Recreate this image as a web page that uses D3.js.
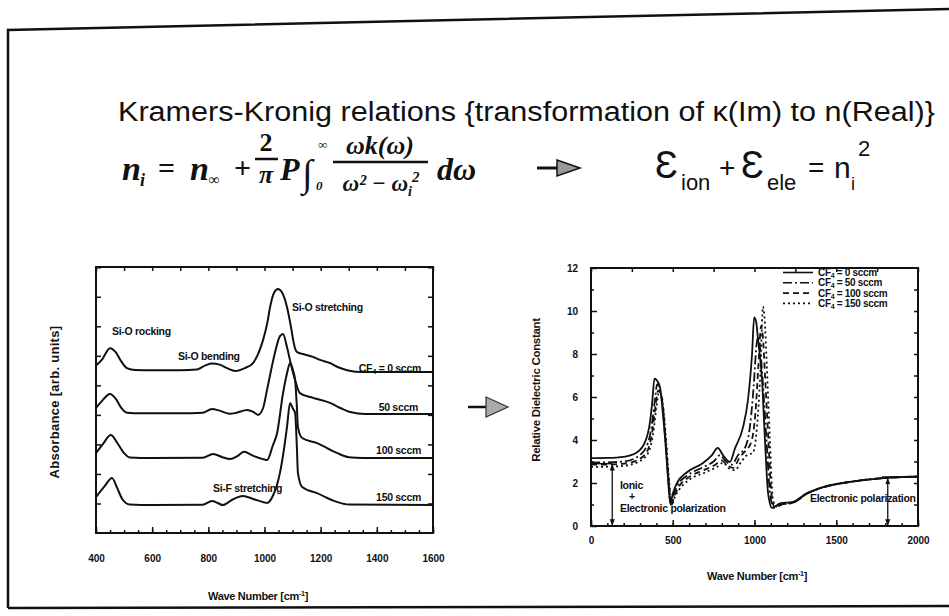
<!DOCTYPE html>
<html>
<head>
<meta charset="utf-8">
<title>Kramers-Kronig</title>
<script src="https://cdn.jsdelivr.net/npm/d3@7"></script>
<style>
  body { margin: 0; background: #fff; }
  svg text { font-family: "Liberation Sans", Arial, sans-serif; fill: #111; }
  .lbl { font-weight: bold; font-size: 10.5px; letter-spacing: -0.3px; }
  .tick text { font-weight: bold; font-size: 10px; font-family: "Liberation Sans", Arial, sans-serif; }
  .tick line { stroke: #111; stroke-width: 1.5; }
  .math { font-family: "Liberation Serif", "Times New Roman", serif; font-weight: bold; font-style: italic; }
</style>
</head>
<body>
<svg id="slide" width="949" height="616"></svg>
<script>
// ---- left chart: FTIR absorbance, [wave number, absorbance (offset)] ----
var ftir0 = [[400,6.3],[420,6.5],[450,6.95],[470,6.8],[490,6.45],[510,6.2],[540,6.13],[600,6.12],[700,6.12],[760,6.15],[790,6.3],[813,6.37],[840,6.33],[870,6.18],[895,6.09],[930,6.2],[959,6.39],[980,6.8],[995,7.26],[1010,7.9],[1020,8.5],[1035,9.05],[1048,9.17],[1062,9.05],[1080,8.5],[1095,7.7],[1102,7.26],[1110,6.9],[1116,6.8],[1140,6.72],[1173,6.62],[1200,6.5],[1233,6.39],[1265,6.22],[1294,6.12],[1351,6.05],[1450,6.05],[1600,6.05]];
var ftir50 = [[400,4.7],[420,4.95],[450,5.23],[470,5.05],[490,4.7],[510,4.52],[560,4.5],[700,4.5],[780,4.52],[813,4.66],[840,4.6],[877,4.48],[900,4.52],[938,4.62],[960,4.55],[977,4.44],[995,4.7],[1009,5.38],[1025,6.2],[1037,6.77],[1055,7.4],[1066,7.48],[1080,6.99],[1095,6.3],[1109,5.75],[1126,5.26],[1173,5.08],[1233,4.89],[1270,4.7],[1305,4.55],[1360,4.47],[1600,4.47]];
var ftir100 = [[400,3.0],[425,3.35],[453,3.68],[475,3.4],[500,3.0],[520,2.84],[600,2.82],[780,2.83],[817,2.97],[850,2.85],[877,2.78],[905,2.9],[927,3.05],[960,2.9],[1000,2.76],[1009,2.74],[1030,3.3],[1045,3.76],[1066,5.26],[1080,6.0],[1091,6.39],[1102,6.1],[1109,5.75],[1115,4.8],[1119,3.98],[1134,3.57],[1187,3.38],[1258,3.01],[1300,2.85],[1350,2.82],[1600,2.82]];
var ftir150 = [[400,1.35],[430,1.75],[457,2.07],[475,1.7],[495,1.25],[520,1.07],[600,1.05],[780,1.06],[813,1.2],[835,1.12],[852,1.05],[885,1.25],[923,1.39],[960,1.28],[1000,1.15],[1009,1.13],[1030,1.4],[1055,2.26],[1070,3.2],[1080,3.98],[1091,4.89],[1100,4.7],[1109,4.51],[1115,3.3],[1119,2.26],[1134,1.73],[1187,1.5],[1258,1.17],[1300,1.07],[1600,1.05]];
var ftirTicks = [400, 600, 800, 1000, 1200, 1400, 1600];

// ---- right chart: relative dielectric constant, [wave number, value] ----
var diel0 = [[0,3.16],[100,3.17],[200,3.22],[280,3.42],[330,3.9],[360,4.8],[375,5.8],[388,6.85],[400,6.8],[422,6.45],[440,5.2],[455,3.9],[470,2.3],[485,1.05],[500,1.5],[526,2.0],[587,2.5],[685,2.93],[740,3.3],[775,3.63],[807,3.3],[850,2.98],[880,3.6],[930,4.6],[960,5.86],[985,8.0],[998,9.7],[1010,9.5],[1022,8.65],[1046,6.8],[1064,4.0],[1083,1.53],[1107,0.84],[1156,1.05],[1235,1.12],[1321,1.53],[1419,1.81],[1584,2.05],[1786,2.23],[2000,2.3]];
var diel50 = [[0,2.95],[100,2.96],[200,3.0],[280,3.2],[340,3.7],[370,4.6],[390,5.8],[405,6.6],[420,6.4],[438,5.6],[455,4.0],[472,2.3],[488,1.0],[505,1.45],[530,1.9],[590,2.35],[690,2.75],[750,3.0],[790,3.3],[820,3.05],[860,2.85],[900,3.3],[940,3.6],[975,4.8],[995,6.5],[1012,8.4],[1022,8.8],[1035,8.2],[1055,6.2],[1075,3.8],[1095,1.5],[1118,0.85],[1160,1.0],[1240,1.1],[1320,1.5],[1420,1.8],[1584,2.05],[1786,2.23],[2000,2.3]];
var diel100 = [[0,2.85],[100,2.86],[200,2.9],[280,3.05],[345,3.5],[375,4.4],[395,5.6],[410,6.3],[425,6.2],[442,5.4],[458,3.9],[475,2.2],[490,0.95],[508,1.35],[535,1.8],[595,2.25],[690,2.6],[760,2.85],[800,3.05],[830,2.85],[870,2.7],[910,3.2],[945,3.5],[980,3.9],[1005,5.2],[1025,7.6],[1040,9.3],[1050,8.9],[1065,6.9],[1085,4.0],[1105,1.4],[1125,0.85],[1165,1.0],[1240,1.1],[1320,1.5],[1420,1.8],[1584,2.05],[1786,2.23],[2000,2.3]];
var diel150 = [[0,2.75],[100,2.76],[200,2.8],[280,2.95],[350,3.4],[380,4.3],[400,5.5],[415,6.2],[430,6.1],[445,5.3],[460,3.9],[478,2.1],[492,0.95],[510,1.3],[540,1.7],[600,2.15],[700,2.5],[770,2.75],[810,2.95],[840,2.7],[880,2.6],[920,3.0],[955,3.3],[990,3.4],[1015,4.6],[1035,7.0],[1052,10.2],[1062,9.6],[1075,7.5],[1093,4.2],[1112,1.3],[1132,0.9],[1170,1.0],[1240,1.1],[1320,1.5],[1420,1.8],[1584,2.05],[1786,2.23],[2000,2.3]];
var dielXTicks = [0, 500, 1000, 1500, 2000];
var dielYTicks = [0, 2, 4, 6, 8, 10, 12];
var flows = ["0", "50", "100", "150"];

var svg = d3.select("#slide");
var fmt = d3.format("d");

// arrow heads for the annotation arrows
var defs = svg.append("defs");
defs.append("marker").attr("id", "ah").attr("viewBox", "0 0 10 10").attr("refX", 9).attr("refY", 5)
  .attr("markerWidth", 5).attr("markerHeight", 5).attr("orient", "auto-start-reverse")
  .append("path").attr("d", "M0,1L10,5L0,9z").attr("fill", "#111");

// slide border
svg.append("path").attr("d", "M8,608L8,30L949,9M8,608L949,606")
  .attr("fill", "none").attr("stroke", "#111").attr("stroke-width", 2.5);

// title
svg.append("text").attr("x", 118).attr("y", 121).attr("font-size", 27)
  .attr("textLength", 817).attr("lengthAdjust", "spacingAndGlyphs")
  .text("Kramers-Kronig relations {transformation of \u03ba(Im) to n(Real)}");

// formula (left part)
var m = svg.append("g");
function mt(x, y, s, t, anchor) {
  return m.append("text").attr("class", "math").attr("x", x).attr("y", y)
    .attr("font-size", s).attr("text-anchor", anchor || "start").text(t);
}
mt(122, 180, 34, "n"); mt(140, 186, 18, "i");
mt(158, 178, 30, "=").style("font-style", "normal");
mt(190, 180, 34, "n"); mt(208, 185, 16, "\u221e");
mt(234, 178, 30, "+").style("font-style", "normal");
mt(266, 151, 26, "2", "middle").style("font-style", "normal");
m.append("line").attr("x1", 255).attr("x2", 278).attr("y1", 159).attr("y2", 159).attr("stroke", "#111").attr("stroke-width", 2.5);
mt(266, 183, 26, "\u03c0", "middle");
mt(280, 180, 32, "P");
mt(302, 186, 38, "\u222b").style("font-style", "normal");
mt(318, 149, 13, "\u221e"); mt(316, 190, 13, "0");
mt(380, 154, 26, "\u03c9k(\u03c9)", "middle");
m.append("line").attr("x1", 333).attr("x2", 428).attr("y1", 162).attr("y2", 162).attr("stroke", "#111").attr("stroke-width", 2.5);
var den = mt(381, 191, 23, "\u03c9\u00b2 \u2212 \u03c9", "middle");
den.append("tspan").attr("font-size", 14).attr("dy", 5).text("i");
den.append("tspan").attr("font-size", 15).attr("dy", -14).text("2");
mt(437, 180, 32, "d\u03c9");

// arrow after formula
svg.append("line").attr("x1", 537).attr("x2", 562).attr("y1", 168).attr("y2", 168).attr("stroke", "#111").attr("stroke-width", 3);
svg.append("path").attr("d", "M557,160L580,168L557,176z").attr("fill", "#999").attr("stroke", "#111").attr("stroke-width", 1.5);

// formula (right part)
function st(x, y, s, t) {
  return svg.append("text").attr("x", x).attr("y", y).attr("font-size", s).text(t);
}
st(655, 178, 38, "\u0190"); st(681, 190, 22, "ion");
st(719, 177, 28, "+");
st(741, 178, 38, "\u0190"); st(767, 190, 22, "ele");
st(808, 177, 28, "=");
st(834, 178, 30, "n"); st(851, 190, 18, "i"); st(858, 156, 22, "2");

// big arrow between the charts
svg.append("line").attr("x1", 468).attr("x2", 490).attr("y1", 407).attr("y2", 407).attr("stroke", "#111").attr("stroke-width", 2.5);
svg.append("path").attr("d", "M486,397L508,407L486,417z").attr("fill", "#aaa").attr("stroke", "#333").attr("stroke-width", 1.2);

function cleanAxis(g) { g.select(".domain").remove(); }

// ================= left chart =================
var xL = d3.scaleLinear().domain([400, 1600]).range([96, 433]);
var yL = d3.scaleLinear().domain([0, 10]).range([533, 267]);
var gL = svg.append("g");

gL.append("g").attr("transform", "translate(0,533)")
  .call(d3.axisBottom(xL).tickValues(d3.range(400, 1601, 50)).tickSize(-3).tickFormat("")).call(cleanAxis);
gL.append("g").attr("transform", "translate(0,533)")
  .call(d3.axisBottom(xL).tickValues(ftirTicks).tickSize(-6).tickPadding(22).tickFormat(fmt)).call(cleanAxis);
gL.append("g").attr("transform", "translate(0,267)")
  .call(d3.axisTop(xL).tickValues(d3.range(400, 1601, 100)).tickSize(-4).tickFormat("")).call(cleanAxis);
gL.append("g").attr("transform", "translate(96,0)")
  .call(d3.axisLeft(yL).tickValues(d3.range(1.11, 10, 1.11)).tickSize(-5).tickFormat("")).call(cleanAxis);
gL.append("g").attr("transform", "translate(433,0)")
  .call(d3.axisRight(yL).tickValues(d3.range(1.11, 10, 1.11)).tickSize(-5).tickFormat("")).call(cleanAxis);

gL.append("rect").attr("x", 96).attr("y", 267).attr("width", 337).attr("height", 266)
  .attr("fill", "none").attr("stroke", "#111").attr("stroke-width", 2);

var lineL = d3.line().x(function(d) { return xL(d[0]); }).y(function(d) { return yL(d[1]); }).curve(d3.curveMonotoneX);
[ftir0, ftir50, ftir100, ftir150].forEach(function(s) {
  gL.append("path").datum(s).attr("d", lineL).attr("fill", "none").attr("stroke", "#111").attr("stroke-width", 2);
});

function lbl(g, x, y, t, anchor) {
  return g.append("text").attr("class", "lbl").attr("x", x).attr("y", y).attr("text-anchor", anchor || "start").text(t);
}
lbl(gL, 112, 335, "Si-O rocking");
lbl(gL, 178, 360, "Si-O bending");
lbl(gL, 292, 311, "Si-O stretching");
lbl(gL, 213, 492, "Si-F stretching");
var cf = lbl(gL, 421, 372, "CF", "end");
cf.append("tspan").attr("font-size", 7.5).attr("dy", 2).text("4");
cf.append("tspan").attr("dy", -2).text(" = 0 sccm");
lbl(gL, 418, 411, "50 sccm", "end");
lbl(gL, 421, 454, "100 sccm", "end");
lbl(gL, 421, 501, "150 sccm", "end");

gL.append("text").attr("class", "lbl").attr("transform", "translate(59,402) rotate(-90)")
  .attr("text-anchor", "middle").style("font-size", "13px").style("letter-spacing", "0.3px").text("Absorbance [arb. units]");
var xtL = gL.append("text").attr("class", "lbl").attr("x", 258).attr("y", 600).attr("text-anchor", "middle").style("font-size", "11px").text("Wave Number [cm");
xtL.append("tspan").attr("font-size", 7).attr("dy", -4).text("-1");
xtL.append("tspan").attr("dy", 4).text("]");

// ================= right chart =================
var xR = d3.scaleLinear().domain([0, 2000]).range([591, 918]);
var yR = d3.scaleLinear().domain([0, 12]).range([526, 268]);
var gR = svg.append("g");

gR.append("g").attr("transform", "translate(0,526)")
  .call(d3.axisBottom(xR).tickValues(d3.range(0, 2001, 100)).tickSize(-3).tickFormat("")).call(cleanAxis);
gR.append("g").attr("transform", "translate(0,526)")
  .call(d3.axisBottom(xR).tickValues(dielXTicks).tickSize(-6).tickPadding(11).tickFormat(fmt)).call(cleanAxis);
gR.append("g").attr("transform", "translate(0,268)")
  .call(d3.axisTop(xR).tickValues(d3.range(0, 2001, 250)).tickSize(-4).tickFormat("")).call(cleanAxis);
gR.append("g").attr("transform", "translate(591,0)")
  .call(d3.axisLeft(yR).tickValues(d3.range(1, 12, 2)).tickSize(-3).tickFormat("")).call(cleanAxis);
gR.append("g").attr("transform", "translate(591,0)")
  .call(d3.axisLeft(yR).tickValues(dielYTicks).tickSize(-6).tickPadding(13).tickFormat(fmt)).call(cleanAxis);
gR.append("g").attr("transform", "translate(918,0)")
  .call(d3.axisRight(yR).tickValues(d3.range(1, 12, 1)).tickSize(-4).tickFormat("")).call(cleanAxis);

gR.append("rect").attr("x", 591).attr("y", 268).attr("width", 327).attr("height", 258)
  .attr("fill", "none").attr("stroke", "#111").attr("stroke-width", 2);

var lineR = d3.line().x(function(d) { return xR(d[0]); }).y(function(d) { return yR(d[1]); }).curve(d3.curveMonotoneX);
var dashes = [null, "9,3,2,3", "6,4", "2,3"];
[diel0, diel50, diel100, diel150].forEach(function(s, i) {
  gR.append("path").datum(s).attr("d", lineR).attr("fill", "none").attr("stroke", "#111")
    .attr("stroke-width", 1.8).attr("stroke-dasharray", dashes[i]);
});

// annotations: ionic + electronic, electronic polarization
gR.append("line").attr("x1", xR(0)).attr("x2", xR(130)).attr("y1", yR(2.9)).attr("y2", yR(2.9)).attr("stroke", "#111").attr("stroke-width", 1.5);
gR.append("line").attr("x1", xR(130)).attr("x2", xR(130)).attr("y1", yR(2.9) + 1).attr("y2", yR(0) - 1)
  .attr("stroke", "#111").attr("stroke-width", 1.3).attr("marker-start", "url(#ah)").attr("marker-end", "url(#ah)");
gR.append("line").attr("x1", xR(1780)).attr("x2", xR(2000)).attr("y1", yR(2.28)).attr("y2", yR(2.28)).attr("stroke", "#111").attr("stroke-width", 1.3);
gR.append("line").attr("x1", xR(1815)).attr("x2", xR(1815)).attr("y1", yR(2.25) + 1).attr("y2", yR(0) - 1)
  .attr("stroke", "#111").attr("stroke-width", 1.3).attr("marker-start", "url(#ah)").attr("marker-end", "url(#ah)");
lbl(gR, 620, 489, "Ionic");
lbl(gR, 629, 500, "+");
lbl(gR, 620, 512, "Electronic polarization");
lbl(gR, 810, 502, "Electronic polarization");

// legend
var lg = gR.append("g");
flows.forEach(function(f, i) {
  var yy = 276 + i * 10.3;
  lg.append("line").attr("x1", 783).attr("x2", 813).attr("y1", yy - 3.5).attr("y2", yy - 3.5)
    .attr("stroke", "#111").attr("stroke-width", 1.6).attr("stroke-dasharray", dashes[i]);
  var t = lg.append("text").attr("class", "lbl").attr("x", 818).attr("y", yy).style("font-size", "10px").text("CF");
  t.append("tspan").attr("font-size", 7).attr("dy", 2).text("4");
  t.append("tspan").attr("dy", -2).text(" = " + f + " sccm");
});

gR.append("text").attr("class", "lbl").attr("transform", "translate(540,390) rotate(-90)")
  .attr("text-anchor", "middle").style("font-size", "11.5px").text("Relative Dielectric Constant");
var xtR = gR.append("text").attr("class", "lbl").attr("x", 757).attr("y", 580).attr("text-anchor", "middle").style("font-size", "11px").text("Wave Number [cm");
xtR.append("tspan").attr("font-size", 7).attr("dy", -4).text("-1");
xtR.append("tspan").attr("dy", 4).text("]");
</script>
</body>
</html>
